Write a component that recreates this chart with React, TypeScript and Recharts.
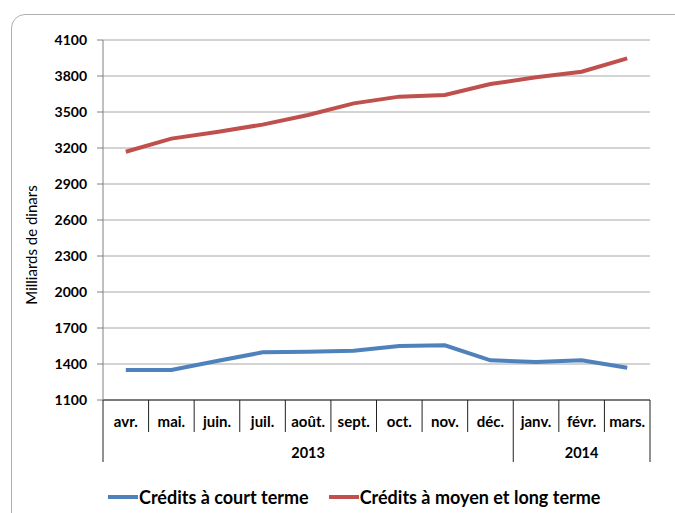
import React from 'react';
import { LineChart, Line, XAxis, YAxis, CartesianGrid, Legend } from 'recharts';

const months = ['avr.', 'mai.', 'juin.', 'juil.', 'août.', 'sept.', 'oct.', 'nov.', 'déc.', 'janv.', 'févr.', 'mars.'];
const years = ['2013', '2013', '2013', '2013', '2013', '2013', '2013', '2013', '2013', '2014', '2014', '2014'];
const courtTerme = [1350, 1350, 1425, 1497, 1503, 1511, 1550, 1556, 1431, 1417, 1431, 1369];
const moyenLongTerme = [3169, 3278, 3334, 3395, 3475, 3572, 3628, 3642, 3733, 3789, 3836, 3947];
const yTicks = [1100, 1400, 1700, 2000, 2300, 2600, 2900, 3200, 3500, 3800, 4100];

const seriesNames = ['Crédits à court terme', 'Crédits à moyen et long terme'];
const seriesColors = ['#4F81BD', '#C0504D'];

const data = months.map((m, i) => ({
  month: m,
  year: years[i],
  court: courtTerme[i],
  long: moyenLongTerme[i],
}));

const W = 675;
const H = 513;
const MARGIN = { top: 40, right: 25, bottom: 0, left: 0 };
const Y_AXIS_W = 103;
const X_AXIS_H = 113;
const PLOT_W = W - MARGIN.left - MARGIN.right - Y_AXIS_W;
const BAND_FALLBACK = PLOT_W / months.length;
const FONT = 'Lato, "Open Sans", sans-serif';

const MonthTick = (props: any) => {
  const { x, y, payload } = props;
  const i: number = payload.index ?? props.index;
  const band = payload.offset ? payload.offset * 2 : BAND_FALLBACK;
  const yr = years[i];
  const isFirst = i === 0 || years[i - 1] !== yr;
  const isLast = i === years.length - 1 || years[i + 1] !== yr;
  let end = i;
  while (end + 1 < years.length && years[end + 1] === yr) end++;
  const lineColor = '#222';
  return (
    <g>
      {i === 0 && (
        <line x1={x - band / 2} x2={x - band / 2} y1={y} y2={y + 62} stroke={lineColor} strokeWidth={1} />
      )}
      <line
        x1={x + band / 2}
        x2={x + band / 2}
        y1={y}
        y2={y + (isLast ? 62 : 32)}
        stroke={lineColor}
        strokeWidth={1}
      />
      <text x={x} y={y + 27} textAnchor="middle" fontFamily={FONT} fontWeight={700} fontSize={15} fill="#000">
        {payload.value}
      </text>
      {isFirst && (
        <text
          x={x + ((end - i) / 2) * band}
          y={y + 58}
          textAnchor="middle"
          fontFamily={FONT}
          fontWeight={700}
          fontSize={14.5}
          fill="#000"
        >
          {yr}
        </text>
      )}
    </g>
  );
};

const YTick = (props: any) => {
  const { x, y, payload } = props;
  return (
    <text x={x} y={y + 5} textAnchor="end" fontFamily={FONT} fontWeight={700} fontSize={14} fill="#000">
      {payload.value}
    </text>
  );
};

const LegendContent = () => (
  <div
    style={{
      display: 'flex',
      alignItems: 'center',
      paddingLeft: 108,
      fontFamily: FONT,
      fontWeight: 700,
      fontSize: 18,
      color: '#000',
      whiteSpace: 'nowrap',
    }}
  >
    {seriesNames.map((n, i) => (
      <div key={n} style={{ display: 'flex', alignItems: 'center', marginRight: 20 }}>
        <span style={{ display: 'inline-block', width: 30, height: 4, background: seriesColors[i], marginRight: 1 }} />
        <span>{n}</span>
      </div>
    ))}
  </div>
);

export default function App() {
  return (
    <div
      style={{
        position: 'absolute',
        left: 0,
        top: 0,
        width: W,
        height: H,
        overflow: 'hidden',
        background: '#fff',
      }}
    >
      <div
        style={{
          position: 'absolute',
          left: 11,
          top: 14,
          width: 680,
          height: 540,
          border: '1px solid #b0b0b0',
          borderRadius: 14,
          boxSizing: 'border-box',
        }}
      />
      <div style={{ position: 'absolute', left: 0, top: 0 }}>
        <LineChart width={W} height={H} data={data} margin={MARGIN}>
          <CartesianGrid vertical={false} stroke="#a6a6a6" strokeWidth={1} />
          <XAxis
            dataKey="month"
            scale="band"
            interval={0}
            tickLine={false}
            tickSize={0}
            tickMargin={0}
            axisLine={{ stroke: '#222', strokeWidth: 1 }}
            tick={<MonthTick />}
            height={X_AXIS_H}
          />
          <YAxis
            type="number"
            domain={[1100, 4100]}
            ticks={yTicks}
            interval={0}
            width={Y_AXIS_W}
            tickSize={6}
            tickMargin={10}
            tickLine={{ stroke: '#808080' }}
            axisLine={{ stroke: '#808080' }}
            tick={<YTick />}
            label={{
              content: (p: any) => {
                const vb = p.viewBox || {};
                const cx = 33;
                const cy = (vb.y ?? 40) + (vb.height ?? 360) / 2 + 25;
                return (
                  <text
                    x={cx}
                    y={cy}
                    transform={`rotate(-90 ${cx} ${cy})`}
                    textAnchor="middle"
                    dominantBaseline="middle"
                    fontFamily={FONT}
                    fontSize={15}
                    fill="#000"
                  >
                    Milliards de dinars
                  </text>
                );
              },
            }}
          />
          <Legend
            content={<LegendContent />}
            wrapperStyle={{ position: 'absolute', left: 0, top: 486, width: W, height: 0, overflow: 'visible' }}
          />
          <Line
            type="linear"
            dataKey="court"
            name={seriesNames[0]}
            stroke={seriesColors[0]}
            strokeWidth={4}
            dot={false}
            activeDot={false}
            isAnimationActive={false}
          />
          <Line
            type="linear"
            dataKey="long"
            name={seriesNames[1]}
            stroke={seriesColors[1]}
            strokeWidth={4}
            dot={false}
            activeDot={false}
            isAnimationActive={false}
          />
        </LineChart>
      </div>
    </div>
  );
}
